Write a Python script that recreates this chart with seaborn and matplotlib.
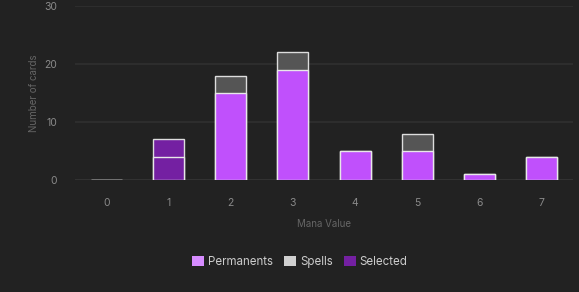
import numpy as np
import pandas as pd
import matplotlib
matplotlib.use("Agg")
import matplotlib.pyplot as plt
import seaborn as sns
from matplotlib.patches import Patch

mana_values = ["0", "1", "2", "3", "4", "5", "6", "7"]
permanents = [0, 4, 15, 19, 5, 5, 1, 4]
spells = [0, 3, 3, 3, 0, 3, 0, 0]
selected = "1"

BG = "#222222"
PERM = "#c050fc"
SPELL = "#555555"
SEL = "#7420a2"

sns.set_theme(style="dark")
plt.rcParams['font.family'] = ['Inter', 'DejaVu Sans']

df = pd.DataFrame({"mana": mana_values, "perm": permanents, "spells": spells})
df["total"] = df["perm"] + df["spells"]

fig = plt.figure(figsize=(5.79, 2.92), dpi=100, facecolor=BG)
ax = fig.add_axes([75/579, 1-180/292, 498/579, 174/292])
ax.set_facecolor(BG)

total_colors = [SEL if m == selected else SPELL for m in mana_values]
perm_colors = [SEL if m == selected else PERM for m in mana_values]

sns.barplot(data=df, x="mana", y="total", hue="mana", palette=total_colors, saturation=1,
            legend=False, width=0.5, edgecolor="#dddddd", linewidth=1.0, ax=ax, zorder=2)
sns.barplot(data=df, x="mana", y="perm", hue="mana", palette=perm_colors, saturation=1,
            legend=False, width=0.5, edgecolor="#e8e8e8", linewidth=1.0, ax=ax, zorder=3)

ax.set_ylim(0, 30)
ax.set_xlim(-0.5, 7.5)
ax.set_yticks([0, 10, 20, 30])
ax.yaxis.grid(True, color="#303030", linewidth=1.2)
ax.xaxis.grid(False)
ax.axhline(0, color="#333333", linewidth=2, zorder=1)
for s in ax.spines.values():
    s.set_visible(False)
ax.tick_params(axis="both", length=0, colors="#8a8a8a", labelsize=7.5)
ax.tick_params(axis="y", pad=13)
ax.tick_params(axis="x", pad=13)
ax.set_xlabel("Mana Value", color="#666666", fontsize=7, labelpad=8)
ax.set_ylabel("Number of cards", color="#666666", fontsize=7, labelpad=4)

handles = [Patch(facecolor="#d68cff", edgecolor="none", label="Permanents"),
           Patch(facecolor="#d0d0d0", edgecolor="none", label="Spells"),
           Patch(facecolor=SEL, edgecolor="none", label="Selected")]
leg = fig.legend(handles=handles, loc="center", bbox_to_anchor=(300/579, 1-262/292),
                 ncol=3, frameon=False, fontsize=8.3, handlelength=1.0, handleheight=1.0,
                 handletextpad=0.35, columnspacing=1.0)
for t in leg.get_texts():
    t.set_color("#cccccc")

fig.savefig("out.png", dpi=100, facecolor=BG)
